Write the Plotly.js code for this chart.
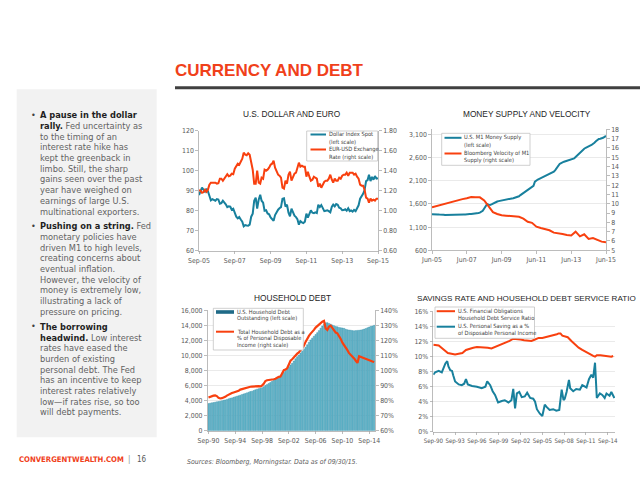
<!DOCTYPE html>
<html>
<head>
<meta charset="utf-8">
<script src="https://cdn.plot.ly/plotly-3.0.1.min.js"></script>
<style>
html,body{margin:0;padding:0;background:#fff;}
#chart{width:640px;height:480px;}
</style>
</head>
<body>
<div id="chart"></div>
<script>
// ---------------- DATA ----------------
// Chart 1: U.S. Dollar and Euro (monthly, Sep-05 .. Sep-15)
const usdIndex = [87.8,89.5,91.5,90.5,
 89.5,91.0,89.8,87.5,85.2,85.8,85.3,85.0,85.8,85.6,83.5,83.8,
 85.0,84.2,83.2,81.8,82.2,82.0,80.5,81.0,78.5,77.0,76.2,76.8,
 75.6,74.5,72.2,72.8,72.6,72.5,73.0,77.0,78.5,85.0,86.5,81.0,
 85.5,88.0,85.0,84.0,80.0,80.2,78.6,78.2,76.6,76.0,75.0,77.8,
 79.5,80.5,81.2,81.8,86.0,86.2,82.0,83.0,79.0,77.2,81.0,79.0,
 77.5,76.8,75.8,73.0,74.8,74.2,73.8,74.5,78.5,76.5,78.8,80.2,
 79.0,78.8,79.2,78.8,83.0,81.8,82.8,81.3,79.8,80.0,80.2,79.8,
 79.2,82.0,83.0,82.2,83.3,83.0,81.5,81.2,80.2,80.3,80.7,80.0,
 81.2,79.8,80.1,79.5,80.4,79.8,81.5,82.7,86.0,86.9,88.4,90.3,
 94.8,95.3,98.0,94.8,96.9,95.5,97.3,96.0,96.2];
const eurUsd = [1.205,1.200,1.180,1.185,
 1.210,1.190,1.210,1.260,1.280,1.280,1.280,1.280,1.270,1.275,1.320,1.320,
 1.300,1.320,1.335,1.365,1.345,1.350,1.370,1.365,1.420,1.450,1.470,1.460,
 1.485,1.520,1.580,1.560,1.555,1.575,1.560,1.470,1.410,1.270,1.270,1.400,
 1.280,1.270,1.330,1.320,1.410,1.400,1.410,1.430,1.460,1.470,1.500,1.430,
 1.390,1.360,1.350,1.330,1.230,1.220,1.300,1.270,1.360,1.390,1.300,1.340,
 1.370,1.380,1.420,1.480,1.440,1.450,1.440,1.440,1.340,1.390,1.340,1.300,
 1.310,1.340,1.330,1.320,1.240,1.270,1.230,1.260,1.290,1.300,1.300,1.320,
 1.360,1.310,1.280,1.320,1.300,1.300,1.330,1.320,1.350,1.360,1.360,1.380,
 1.350,1.380,1.380,1.380,1.360,1.370,1.340,1.320,1.260,1.250,1.250,1.210,
 1.130,1.120,1.080,1.120,1.100,1.110,1.100,1.120,1.120];
const usdTickVals = ['2005-09-01','2007-09-01','2009-09-01','2011-09-01','2013-09-01','2015-09-01'];
const usdTickText = ['Sep-05','Sep-07','Sep-09','Sep-11','Sep-13','Sep-15'];

// Chart 2: Money supply (monthly Jun-05 .. Jun-15) and velocity (quarterly)
const m1Supply = [1378,1380,1378,1376,1374,1370,1372,
 1368,1366,1362,1364,1366,1362,1364,1360,1362,1366,1368,1370,
 1368,1370,1372,1374,1372,1370,1374,1380,1382,1384,1388,1392,
 1398,1405,1412,1425,1450,1500,1560,1598,1585,1576,1590,1610,
 1630,1648,1652,1660,1668,1675,1680,1690,1699,1702,1706,1712,
 1718,1722,1730,1742,1750,1765,1790,1815,1829,1850,1875,1900,
 1936,1955,1975,1990,2079,2110,2125,2140,2155,2170,2190,2210,
 2225,2240,2255,2265,2280,2295,2330,2380,2420,2461,2480,2500,
 2510,2520,2530,2540,2548,2555,2561,2580,2610,2640,2680,2720,
 2750,2777,2790,2810,2830,2845,2855,2870,2890,2920,2950,2975,
 3000,3005,3010,3025,3045,3064];
const m1Velocity = [9.62,9.75,9.90,
 10.00,10.15,10.30,10.40,
 10.50,10.60,10.72,10.70,
 10.69,10.35,9.70,9.10,
 8.90,8.76,8.72,8.70,
 8.70,8.60,8.40,8.07,
 7.95,7.54,7.40,7.26,
 7.15,6.90,6.85,6.75,
 6.65,6.60,7.00,6.50,
 6.72,6.22,6.32,6.15,
 5.93,5.86];
const m1TickVals = ['2005-06-01','2007-06-01','2009-06-01','2011-06-01','2013-06-01','2015-06-01'];
const m1TickText = ['Jun-05','Jun-07','Jun-09','Jun-11','Jun-13','Jun-15'];

// Chart 3: Household debt (quarterly Sep-90 .. Jun-15)
const hhDebt = [3600,3660,
 3700,3740,3790,3840, 3870,3920,3970,4040, 4090,4160,4230,4310, 4360,4430,4500,4580,
 4640,4720,4800,4890, 4950,5030,5110,5200, 5250,5340,5430,5520, 5580,5650,5720,5850,
 6000,6130,6280,6420, 6560,6720,6860,6980, 7120,7300,7510,7740, 7980,8230,8500,8740,
 8960,9260,9560,9830, 10060,10310,10550,10840, 11100,11420,11760,12060, 12300,12550,12780,13030,
 13300,13620,13900,14150, 14330,14360,14250,14150, 14050,13950,13850,13800, 13720,13680,13650,13600,
 13480,13420,13380,13350, 13300,13280,13300,13330, 13350,13380,13430,13500, 13580,13680,13780,13870,
 13920,14010];
const hhDebtPctDPI = [82.0,82.6,
 83.0,83.3,83.4,83.0, 81.8,81.4,81.6,81.9, 82.5,83.3,84.0,84.6, 85.0,85.4,85.6,86.0,
 86.5,87.3,87.7,88.0, 88.2,88.4,88.9,89.2, 89.3,89.5,89.5,89.7, 89.6,89.4,90.0,91.2,
 93.0,93.5,93.6,93.8, 94.0,94.2,94.5,95.2, 95.8,96.0,97.8,100.2, 100.6,101.5,104.0,106.5,
 107.5,108.5,110.0,111.2, 112.0,113.5,114.8,116.5, 119.0,121.5,123.0,124.5, 125.5,127.0,128.5,129.5,
 130.5,131.8,132.5,133.0, 128.0,127.0,129.2,129.8, 128.0,126.8,125.2,124.7, 123.0,121.0,118.5,116.5,
 115.5,113.5,111.5,110.5, 109.5,108.0,106.5,105.0, 109.5,109.0,108.5,108.0, 107.5,107.0,106.5,106.2,
 106.0,105.6];
const hhTickVals = ['1990-09-01','1994-09-01','1998-09-01','2002-09-01','2006-09-01','2010-09-01','2014-09-01'];
const hhTickText = ['Sep-90','Sep-94','Sep-98','Sep-02','Sep-06','Sep-10','Sep-14'];

// Chart 4: Savings rate and debt service ratio
const dsrDates = ['1990-09-01','1991-03-01','1991-06-01','1991-12-01','1992-03-01','1992-09-01','1993-03-01','1993-09-01',
 '1994-03-01','1994-09-01','1995-03-01','1995-09-01','1996-03-01','1996-09-01','1997-03-01','1997-09-01',
 '1998-03-01','1998-09-01','1999-03-01','1999-09-01','2000-03-01','2000-09-01','2001-03-01','2001-09-01',
 '2002-03-01','2002-09-01','2003-03-01','2003-09-01','2004-03-01','2004-09-01','2005-03-01','2005-09-01',
 '2006-03-01','2006-09-01','2007-03-01','2007-09-01','2007-12-01','2008-03-01','2008-06-01','2008-09-01',
 '2009-03-01','2009-09-01','2010-03-01','2010-09-01','2011-03-01','2011-09-01','2012-03-01','2012-09-01',
 '2012-12-01','2013-03-01','2013-09-01','2014-03-01','2014-09-01','2015-03-01','2015-06-01'];
const dsrVals = [11.6,11.6,11.5,11.1,10.9,10.5,10.4,10.3,
 10.4,10.5,10.9,11.1,11.2,11.3,11.3,11.3,
 11.2,11.1,11.3,11.5,11.6,11.8,12.1,12.4,
 12.4,12.3,12.2,12.1,12.1,12.3,12.5,12.5,
 12.6,12.7,12.9,13.0,13.1,13.1,12.8,12.7,
 12.6,12.1,11.6,11.2,10.9,10.6,10.3,10.1,
 10.0,10.2,10.2,10.1,10.0,10.0,10.1];
const savDates = ['1990-09-01','1990-12-01','1991-06-01','1991-11-01','1992-02-01','1992-05-01','1992-08-01','1992-10-01',
 '1993-01-01','1993-04-01','1993-06-01','1993-09-01','1994-03-01','1994-08-01','1994-12-01','1995-03-01',
 '1995-06-01','1996-01-01','1996-09-01','1997-05-01','1997-11-01','1998-02-01','1998-07-01','1998-11-01',
 '1999-03-01','1999-08-01','2000-02-01','2000-07-01','2001-01-01','2001-06-01','2001-09-01','2001-12-01',
 '2002-03-01','2002-07-01','2002-11-01','2003-04-01','2003-08-01','2004-01-01','2004-06-01','2004-09-01',
 '2004-12-01','2005-05-01','2005-09-01','2006-01-01','2006-04-01','2006-09-01','2007-03-01','2007-08-01',
 '2008-01-01','2008-05-01','2008-08-01','2008-10-01','2009-01-01','2009-05-01','2009-07-01','2009-12-01',
 '2010-05-01','2010-11-01','2011-03-01','2011-10-01','2012-02-01','2012-06-01','2012-09-01','2012-12-01',
 '2013-03-01','2013-08-01','2013-12-01','2014-04-01','2014-07-01','2014-12-01','2015-03-01','2015-08-01'];
const savVals = [7.6,7.9,8.1,7.9,8.5,9.1,9.4,8.7,
 8.2,8.1,7.5,6.7,6.3,6.2,6.4,7.0,
 6.3,6.1,6.0,5.8,6.0,6.7,6.2,5.4,
 4.9,3.9,4.1,4.2,3.9,4.2,5.7,3.1,
 5.1,5.3,4.6,4.7,5.2,4.5,4.4,4.0,
 3.0,2.4,2.1,3.6,3.3,2.9,3.0,2.8,
 2.9,5.6,4.2,4.4,5.3,6.9,5.8,5.4,
 5.7,5.6,6.2,5.9,7.0,7.6,7.2,9.2,
 4.5,5.1,4.9,4.5,5.1,4.8,5.3,4.5];
const savTickVals = ['1990-09-01','1993-09-01','1996-09-01','1999-09-01','2002-09-01','2005-09-01','2008-09-01','2011-09-01','2014-09-01'];
const savTickText = ['Sep-90','Sep-93','Sep-96','Sep-99','Sep-02','Sep-05','Sep-08','Sep-11','Sep-14'];

// Sidebar text
const bullet1 = ['<b>A pause in the dollar</b>','<b>rally.</b> Fed uncertainty as','to the timing of an','interest rate hike has',
 'kept the greenback in','limbo. Still, the sharp','gains seen over the past','year have weighed on',
 'earnings of large U.S.','multinational exporters.'];
const bullet2 = ['<b>Pushing on a string.</b> Fed','monetary policies have','driven M1 to high levels,','creating concerns about',
 'eventual inflation.','However, the velocity of','money is extremely low,','illustrating a lack of','pressure on pricing.'];
const bullet3 = ['<b>The borrowing</b>','<b>headwind.</b> Low interest','rates have eased the','burden of existing',
 'personal debt. The Fed','has an incentive to keep','interest rates relatively','low\u2014if rates rise, so too','will debt payments.'];

// ---------------- HELPERS ----------------
const W = 640, H = 480;
const X = p => p / W;
const Y = p => 1 - p / H;
function seq(y, m, n, step) {
  const out = [];
  for (let i = 0; i < n; i++) {
    const t = (m - 1) + i * step;
    const yy = y + Math.floor(t / 12), mm = (t % 12) + 1;
    out.push(yy + '-' + String(mm).padStart(2, '0') + '-01');
  }
  return out;
}
const NARROW = "'DejaVu Sans Condensed',sans-serif";
const SANS = "'Liberation Sans',Arial,sans-serif";
const BLUE = '#18809d', RED = '#f8400f', TICK = '#595959', AXL = '#a6a6a6';
const tickfont = {family: NARROW, size: 6.9, color: TICK};

function txt(text, x, y, size, color, extra) {
  return Object.assign({xref: 'paper', yref: 'paper', x: X(x), y: Y(y), text: text, showarrow: false,
    xanchor: 'left', yanchor: 'middle', borderpad: 0,
    font: {family: NARROW, size: size, color: color}}, extra || {});
}
function rect(x0, y0, x1, y1, fill, line) {
  return {type: 'rect', xref: 'paper', yref: 'paper', x0: X(x0), x1: X(x1), y0: Y(y1), y1: Y(y0),
    fillcolor: fill, line: line || {width: 0}, layer: 'above'};
}
function seg(x0, y, x1, color, w) {
  return {type: 'line', xref: 'paper', yref: 'paper', x0: X(x0), x1: X(x1), y0: Y(y), y1: Y(y),
    line: {color: color, width: w}, layer: 'above'};
}
function xax(dom, range, tv, tt, anchor, fsize) {
  return {domain: [X(dom[0]), X(dom[1])], type: 'date', range: range, tickvals: tv, ticktext: tt, tickangle: 0,
    anchor: anchor, showline: true, linecolor: AXL, linewidth: 0.75, ticks: 'outside', ticklen: 3,
    tickcolor: AXL, tickwidth: 0.75, tickfont: {family: NARROW, size: fsize || 6.9, color: TICK},
    showgrid: false, zeroline: false, fixedrange: true, automargin: false};
}
function yax(o) {
  return Object.assign({showline: true, linecolor: AXL, linewidth: 0.75, ticks: 'outside', ticklen: 3,
    tickcolor: AXL, tickwidth: 0.75, tickfont: tickfont, showgrid: false, zeroline: false, fixedrange: true, automargin: false}, o);
}

// ---------------- TRACES ----------------
const usdDates = seq(2005, 9, usdIndex.length, 1);
const m1Dates = seq(2005, 6, m1Supply.length, 1);
const velDates = seq(2005, 6, m1Velocity.length, 3);
const hhDates = seq(1990, 9, hhDebt.length, 3);

const traces = [
  {x: usdDates, y: usdIndex, type: 'scatter', mode: 'lines', xaxis: 'x', yaxis: 'y', line: {color: BLUE, width: 2}, name: 'Dollar Index Spot (left scale)'},
  {x: usdDates, y: eurUsd, type: 'scatter', mode: 'lines', xaxis: 'x', yaxis: 'y2', line: {color: RED, width: 2}, name: 'EUR-USD Exchange Rate (right scale)'},
  {x: m1Dates, y: m1Supply, type: 'scatter', mode: 'lines', xaxis: 'x2', yaxis: 'y3', line: {color: BLUE, width: 2}, name: 'U.S. M1 Money Supply (left scale)'},
  {x: velDates, y: m1Velocity, type: 'scatter', mode: 'lines', xaxis: 'x2', yaxis: 'y4', line: {color: RED, width: 2}, name: 'Bloomberg Velocity of M1 Supply (right scale)'},
  {x: hhDates, y: hhDebt, type: 'bar', xaxis: 'x3', yaxis: 'y5', marker: {color: '#6cbccf', line: {color: '#2e8aa6', width: 0.4}}, name: 'U.S. Household Debt Outstanding (left scale)'},
  {x: hhDates, y: hhDebtPctDPI, type: 'scatter', mode: 'lines', xaxis: 'x3', yaxis: 'y6', line: {color: RED, width: 2.2}, name: 'Total Household Debt as a % of Personal Disposable Income (right scale)'},
  {x: dsrDates, y: dsrVals, type: 'scatter', mode: 'lines', xaxis: 'x4', yaxis: 'y7', line: {color: RED, width: 2}, name: 'U.S. Financial Obligations Household Debt Service Ratio'},
  {x: savDates, y: savVals, type: 'scatter', mode: 'lines', xaxis: 'x4', yaxis: 'y7', line: {color: BLUE, width: 2}, name: 'U.S. Personal Saving as a % of Disposable Personal Income'}
];

// ---------------- ANNOTATIONS & SHAPES ----------------
const ann = [];
const shapes = [];
// Sidebar box
shapes.push(rect(16.7, 89.3, 156.7, 437.3, '#f2f2f2'));
// header rule
shapes.push(rect(175, 86.3, 640, 89.3, '#404040'));
// Title
ann.push(txt('<b>CURRENCY AND DEBT</b>', 174, 70.5, 17, '#f0401a', {font: {family: SANS, size: 17, color: '#f0401a'}}));

// Sidebar text
const BOLDC = '#1f1f1f', REGC = '#626262';
function addBullet(lines, y0) {
  ann.push(txt('\u2022', 29.5, y0, 9, '#404040'));
  lines.forEach((l, i) => {
    const t = l.replace(/<b>(.*?)<\/b>/g, '<span style="color:' + BOLDC + '"><b>$1</b></span>');
    ann.push(txt(t, 38.5, y0 + i * 10.7, 9.2, REGC));
  });
}
addBullet(bullet1, 114.7);
addBullet(bullet2, 225.7);
addBullet(bullet3, 326.3);

// Chart titles
const TITC = '#262626';
ann.push(txt('U.S. DOLLAR AND EURO', 292, 114, 8.3, TITC, {xanchor: 'center', font: {family: SANS, size: 8.3, color: TITC}}));
ann.push(txt('MONEY SUPPLY AND VELOCITY', 526.7, 114, 8.3, TITC, {xanchor: 'center', font: {family: SANS, size: 8.3, color: TITC}}));
ann.push(txt('HOUSEHOLD DEBT', 292.3, 298.3, 8.3, TITC, {xanchor: 'center', font: {family: SANS, size: 8.3, color: TITC}}));
ann.push(txt('SAVINGS RATE AND HOUSEHOLD DEBT SERVICE RATIO', 415.5, 298.3, 8.1, TITC, {font: {family: SANS, size: 8.1, color: TITC}}));

// Legends (drawn manually)
const LEGC = '#404040', LEGS = 5.7, LBORD = {color: '#bfbfbf', width: 0.75};
// Legend 1
shapes.push(rect(306.7, 131, 377.6, 161, '#ffffff', LBORD));
shapes.push(seg(310.5, 134.5, 326, BLUE, 2));
shapes.push(seg(310.5, 149.5, 326, RED, 2));
ann.push(txt('Dollar Index Spot', 327.5, 134.5, LEGS, LEGC));
ann.push(txt('(left scale)', 327.5, 142.3, LEGS, LEGC));
ann.push(txt('EUR-USD Exchange', 327.5, 149.5, LEGS, LEGC));
ann.push(txt('Rate (right scale)', 327.5, 157.2, LEGS, LEGC));
// Legend 2
shapes.push(rect(441.7, 133.3, 530, 165.3, '#ffffff', LBORD));
shapes.push(seg(444.5, 137.8, 461.5, BLUE, 2));
shapes.push(seg(444.5, 153.5, 461.5, RED, 2));
ann.push(txt('U.S. M1 Money Supply', 463.3, 137.8, LEGS, LEGC));
ann.push(txt('(left scale)', 463.3, 145, LEGS, LEGC));
ann.push(txt('Bloomberg Velocity of M1', 463.3, 153.5, LEGS, LEGC));
ann.push(txt('Supply (right scale)', 463.3, 160.8, LEGS, LEGC));
// Legend 3
shapes.push(rect(213.3, 308.3, 303.3, 350, '#ffffff', LBORD));
shapes.push(rect(216, 310.2, 234, 313.8, '#1f6a87'));
shapes.push(seg(216, 331.7, 234, RED, 2));
ann.push(txt('U.S. Household Debt', 236, 311.8, LEGS, LEGC));
ann.push(txt('Outstanding (left scale)', 236, 318.6, LEGS, LEGC));
ann.push(txt('Total Household Debt as a', 236, 331.7, LEGS, LEGC));
ann.push(txt('% of Personal Disposable', 236, 338.8, LEGS, LEGC));
ann.push(txt('Income (right scale)', 236, 345.9, LEGS, LEGC));
// Legend 4
shapes.push(rect(435, 307, 534.5, 338.3, '#ffffff', LBORD));
shapes.push(seg(436.7, 311.2, 455, RED, 2));
shapes.push(seg(436.7, 326.7, 455, BLUE, 2));
ann.push(txt('U.S. Financial Obligations', 456.7, 311.2, LEGS, LEGC));
ann.push(txt('Household Debt Service Ratio', 456.7, 318.2, LEGS, LEGC));
ann.push(txt('U.S. Personal Saving as a %', 456.7, 326.7, LEGS, LEGC));
ann.push(txt('of Disposable Personal Income', 456.7, 333.5, LEGS, LEGC));

// Footer
ann.push(txt('<b>CONVERGENTWEALTH.COM</b>', 17.5, 459, 7.7, '#f0401a'));
ann.push(txt('|', 126.5, 459, 8, '#8c8c8c'));
ann.push(txt('16', 135.5, 459, 8, '#595959'));
ann.push(txt('<i>Sources: Bloomberg, Morningstar. Data as of 09/30/15.</i>', 185.5, 462.3, 6.9, '#595959'));

// ---------------- LAYOUT ----------------
const GRID = '#e3e3e3';
const layout = {
  width: 640, height: 480, margin: {l: 0, r: 0, t: 0, b: 0}, paper_bgcolor: '#ffffff', plot_bgcolor: 'rgba(0,0,0,0)',
  showlegend: false, hovermode: false, bargap: 0.18,
  xaxis: xax([199, 378], ['2005-09-01', '2015-09-01'], usdTickVals, usdTickText, 'y'),
  yaxis: yax({domain: [Y(250.7), Y(130.7)], range: [60, 120], dtick: 10, anchor: 'x'}),
  yaxis2: yax({overlaying: 'y', side: 'right', anchor: 'x', range: [0.6, 1.8], tickvals: [0.6,0.8,1.0,1.2,1.4,1.6,1.8], tickformat: '.2f'}),
  xaxis2: xax([432, 606], ['2005-06-01', '2015-06-01'], m1TickVals, m1TickText, 'y3'),
  yaxis3: yax({domain: [Y(250.3), Y(129.3)], range: [600, 3208], tickvals: [600,1100,1600,2100,2600,3100], tickformat: ',d', anchor: 'x2', showgrid: true, gridcolor: GRID, gridwidth: 0.75}),
  yaxis4: yax({overlaying: 'y3', side: 'right', anchor: 'x2', range: [5, 18], dtick: 1}),
  xaxis3: xax([207.7, 375], ['1990-07-20', '2015-07-15'], hhTickVals, hhTickText, 'y5'),
  yaxis5: yax({domain: [Y(430.7), Y(310.3)], range: [0, 16000], dtick: 2000, tickformat: ',d', anchor: 'x3', showgrid: true, gridcolor: GRID, gridwidth: 0.75}),
  yaxis6: yax({overlaying: 'y5', side: 'right', anchor: 'x3', range: [60, 140], dtick: 10, ticksuffix: '%'}),
  xaxis4: xax([433.3, 615], ['1990-09-01', '2015-09-01'], savTickVals, savTickText, 'y7', 6.1),
  yaxis7: yax({domain: [Y(431.7), Y(311.7)], range: [0, 16], dtick: 2, ticksuffix: '%', anchor: 'x4', showgrid: true, gridcolor: GRID, gridwidth: 0.75}),
  annotations: ann,
  shapes: shapes
};
layout.shapes[0].layer = 'below';
layout.shapes[1].layer = 'below';

Plotly.newPlot('chart', traces, layout, {staticPlot: true, displayModeBar: false});
</script>
</body>
</html>
